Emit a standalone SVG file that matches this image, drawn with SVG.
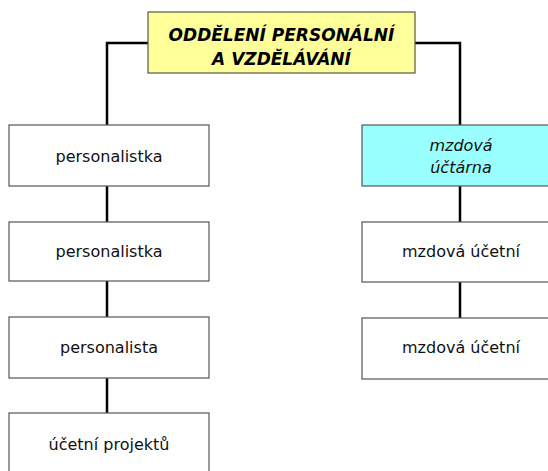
<svg xmlns="http://www.w3.org/2000/svg" width="548" height="471" viewBox="0 0 548 471">
<style>
.box{fill:#ffffff;stroke:#555555;stroke-width:1.2}
.t{font-family:"DejaVu Sans",Verdana,sans-serif;font-size:16px;fill:#111111;text-anchor:middle}
.ti{font-style:italic}
.title{font-family:"DejaVu Sans",Verdana,sans-serif;font-size:17px;font-weight:bold;font-style:italic;fill:#000000;text-anchor:middle}
.c{fill:none;stroke:#000000;stroke-width:2.5}
</style>
<rect width="548" height="471" fill="#ffffff"/>
<g id="connectors">
<path class="c" d="M148,43 H107 V125"/>
<path class="c" d="M415,43 H460 V125"/>
<path class="c" d="M107,186 V222"/>
<path class="c" d="M107,281 V317"/>
<path class="c" d="M107,378 V413"/>
<path class="c" d="M460,186 V222"/>
<path class="c" d="M460,282 V318"/>
</g>
<g id="top">
<rect x="148" y="12" width="267" height="61" fill="#ffff99" stroke="#555555" stroke-width="1.2"/>
<text class="title" x="281.5" y="41">ODDĚLENÍ PERSONÁLNÍ</text>
<text class="title" x="281.5" y="65">A VZDĚLÁVÁNÍ</text>
</g>
<g id="l1"><rect class="box" x="9" y="125" width="200" height="61"/><text class="t" x="109" y="162">personalistka</text></g>
<g id="l2"><rect class="box" x="9" y="222" width="200" height="59"/><text class="t" x="109" y="257">personalistka</text></g>
<g id="l3"><rect class="box" x="9" y="317" width="200" height="61"/><text class="t" x="109" y="353">personalista</text></g>
<g id="l4"><rect class="box" x="9" y="413" width="200" height="61"/><text class="t" x="109" y="450">účetní projektů</text></g>
<g id="r1"><rect x="362" y="125" width="200" height="61" fill="#99ffff" stroke="#555555" stroke-width="1.2"/><text class="t ti" x="461" y="151">mzdová</text><text class="t ti" x="461" y="173">účtárna</text></g>
<g id="r2"><rect class="box" x="362" y="222" width="200" height="60"/><text class="t" x="461" y="257">mzdová účetní</text></g>
<g id="r3"><rect class="box" x="362" y="318" width="200" height="61"/><text class="t" x="461" y="353">mzdová účetní</text></g>
</svg>
